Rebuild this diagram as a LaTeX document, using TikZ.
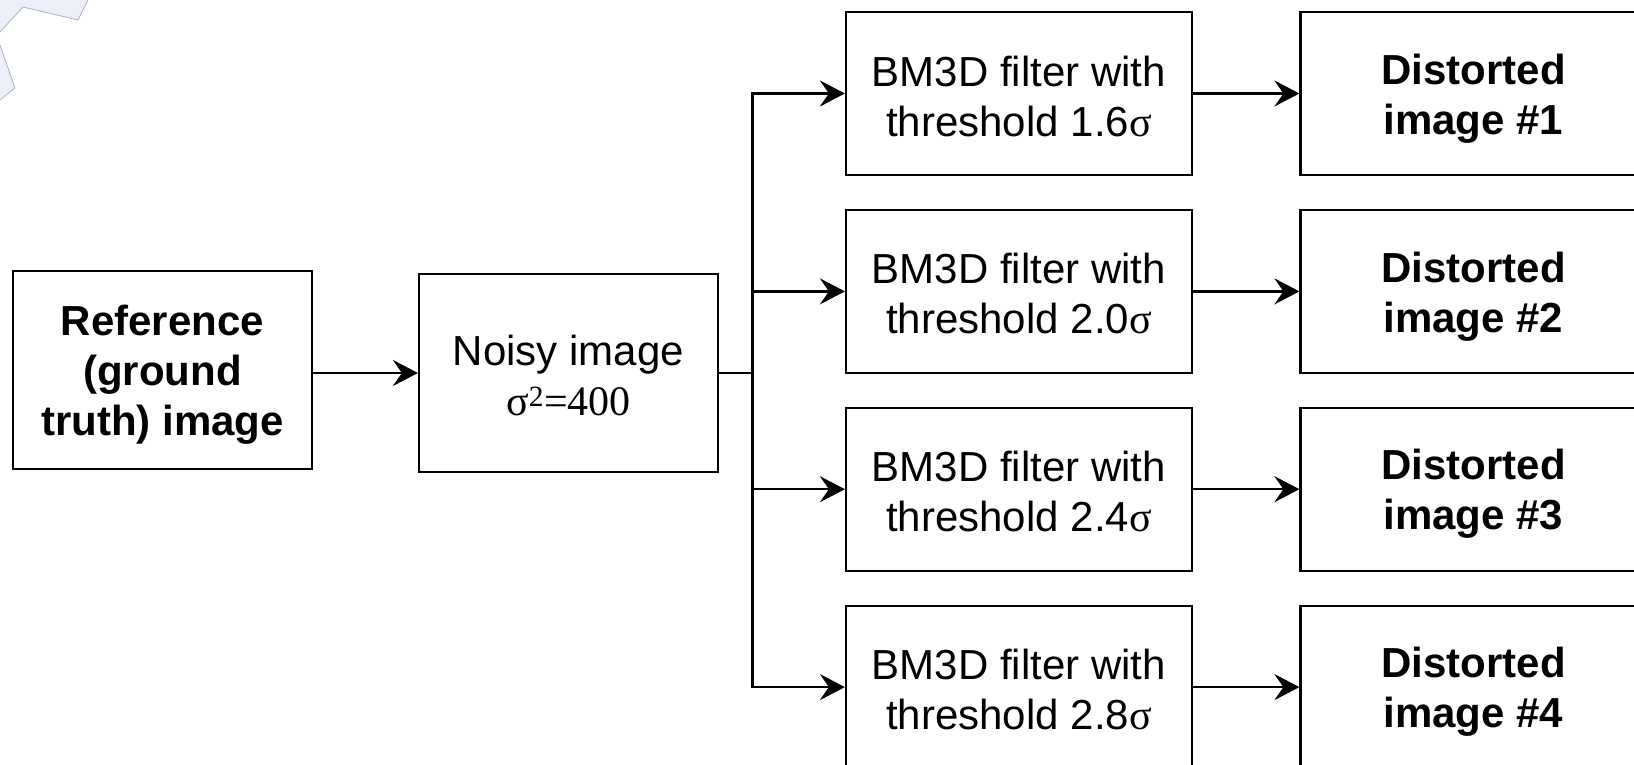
\documentclass[tikz,border=0pt]{standalone}
\usepackage{fontspec}
\setmainfont{Liberation Sans}
\newfontfamily\tms{Liberation Serif}
\usetikzlibrary{arrows.meta}
\definecolor{decofill}{RGB}{236,238,248}
\definecolor{decoline}{RGB}{175,177,190}
\tikzset{
  box/.style={draw=black, line width=2.2pt, inner sep=0pt},
  txt/.style={align=center, inner sep=0pt, font=\fontsize{42}{50}\selectfont},
  btxt/.style={txt, font=\fontsize{42}{50}\selectfont\bfseries},
  refbox/.style={box, minimum width=299pt, minimum height=198pt},
  fbox/.style={box, minimum width=346pt, minimum height=163pt},
  conn/.style={line width=2.2pt},
  arr/.style={conn, -{Stealth[length=25pt, width=26pt, inset=9pt]}},
}
\begin{document}
\begin{tikzpicture}[x=1pt, y=-1pt]
\useasboundingbox (0,0) rectangle (1634,765);
\clip (0,0) rectangle (1634,765);
% decoration in the top-left corner
\fill[decofill] (0,0) -- (0,32) -- (23,7) -- (78,20) -- (88,0) -- cycle;
\draw[decoline, line width=0.8pt] (0,32) -- (23,7) -- (78,20) -- (88,0);
\fill[decofill] (0,45) -- (15,88) -- (0,100) -- cycle;
\draw[decoline, line width=0.8pt] (0,45) -- (15,88) -- (0,100);

\node[refbox] (ref) at (162.5,370) {};
\node[btxt] (refT) at ([yshift=-5pt]ref.center) {Reference\\(ground\\truth) image};
\node[refbox] (noisy) at (568.5,373) {};
\node[txt] (noisyT) at ([yshift=-2.5pt]noisy.center) {Noisy image\\{\tms σ\textsuperscript{2}=400}};

\foreach \i/\y/\t in {1/93.5/1.6, 2/291.4/2.0, 3/489.2/2.4, 4/687.1/2.8} {
  \node[fbox] (f\i) at (1019,\y) {};
  \node[txt] (f\i T) at ([yshift=-2.5pt]f\i.center) {BM3D filter with\\threshold \t{\tms σ}};
  \node[fbox] (d\i) at (1473.5,\y) {};
  \node[btxt] (d\i T) at ([yshift=-5pt]d\i.center) {Distorted\\image \#\i};
}

\coordinate (br) at (752.5,373);

\draw[arr] (ref.east |- noisy.west) -- (noisy.west);
\draw[conn] (noisy.east) -- (br);
\foreach \i in {1,2,3,4} {
  \draw[arr] (br) |- (f\i.west);
  \draw[arr] (f\i) -- (d\i);
}
\end{tikzpicture}
\end{document}
